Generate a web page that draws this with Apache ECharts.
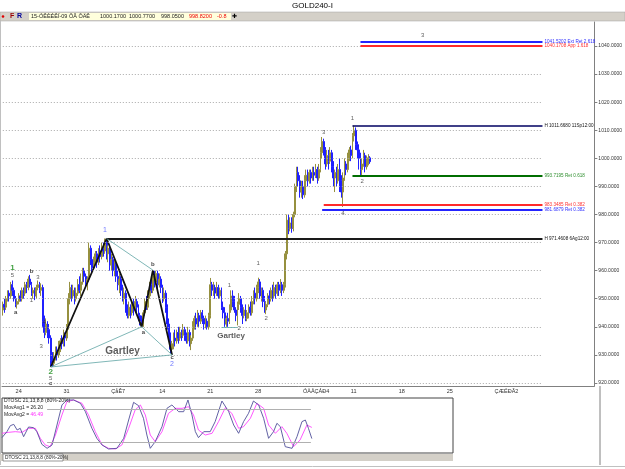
<!DOCTYPE html>
<html>
<head>
<meta charset="utf-8">
<script src="https://cdn.jsdelivr.net/npm/echarts@6/dist/echarts.min.js"></script>
<style>html,body{margin:0;padding:0;background:#fff}#chart{width:625px;height:469px}</style>
</head>
<body>
<div id="chart"></div>
<script>
// week tick labels (bar index 8 + 30*k)
var weekLabels = ['24', '31', 'ÇåÊ7', '14', '21', '28', 'ÓÄÅÇÁÐ4', '11', '18', '25', 'ÇÆÉÐÃ2'];
var barCount = 371;
var priceTicks = [920, 930, 940, 950, 960, 970, 980, 990, 1000, 1010, 1020, 1030, 1040];

// 4H bars: [open, close, low, high]
var bars = [
  [946,948,944,949],[948,947,945,950],[947,950,946,951],[950,952,949,953],[952,951,949,953],
  [951,955,950,956],[955,953,951,956.5],[953,950,949,954],[950,948,947,951],[948,949,946.5,950],
  [949,951,948,952],[951,950,949,953],[950,953,949,954],[953,952,950,954],[952,955,951,956],
  [955,954,952,956],[954,957,953,958],[957,955,954,958.5],[955,952,951,956],[952,953,950,954],
  [953,951,949.5,954],[951,954,950,955],[954,955,953,956.5],[955,953,952,956],[953,954,951,955.5],
  [954,942,940,955],[942,938,936,944],[938,941,937,943],[941,939,936,942],[939,936,934,941],
  [936,928,926,937],[928,927,925.7,931],[927,929,926,931],[929,931,928,933],[931,930,928,933],
  [930,933,929,935],[933,935,931,936],[935,934,932,937],[934,937,933,939],[937,936,933,938],
  [936,940,935,941],[940,950,939,952],[950,954,948,956],[954,951,949,955],[951,953,950,955],
  [953,950,948,954],[950,952,949,954],[952,955,951,957],[955,953,952,958],[953,956,951,959],
  [956,960,955,961],[960,958,956,961],[958,955,954,959],[955,957,953,958],[957,968,956,970],
  [968,964,962,969],[964,961,959,966],[961,963,960,965],[963,966,962,967],[966,963,961,967],
  [963,967,962,968],[967,965,963,969],[965,968,964,970],[968,967,965,970],[967,970,966,971.46],
  [970,966,964,971],[966,968,963,969],[968,962,960,969],[962,964,960,966],[964,960,958,965],
  [960,962,958,964],[962,958,956,963],[958,955,953,960],[955,957,952,959],[957,953,951,958],
  [953,950,949,955],[950,952,948,954],[952,946,945,953],[946,944,943,948],[944,947,943,949],
  [947,945,943,948],[945,948,944,949],[948,946,944,950],[946,949,945,951],[949,947,945,950],
  [947,944,942,948],[944,942,940.5,945],[942,941,940,944],[941,945,940,946],[945,949,944,950],
  [949,947,946,951],[947,951,946,953],[951,955,950,956],[955,953,952,957],[953,958,952,960.2],
  [958,956,954,960],[956,959,955,960],[959,955,953,960],[955,957,954,959],[957,954,952,958],
  [954,950,948.5,955],[950,952,949,954],[952,947,945,953],[947,941,939,948],[941,936,935,943],
  [936,932,930.5,938],[932,934,930,935],[934,936,932,938],[936,935,933,939],[935,938,934,939],
  [938,936,934,940],[936,938,935,940],[938,937,935,939],[937,939,936,941],[939,937,935,940],
  [937,935,934,938],[935,938,934,940],[938,934,933,939],[934,936,931.7,937],[936,940,935,942],
  [940,943,939,944],[943,941,939,945],[941,944,940,946],[944,942,940,945],[942,945,941,946],
  [945,943,941,946],[943,941,939,944],[941,942,939.5,944],[942,940,939,943],[940,944,939,945],
  [944,955,943,957.4],[955,953,951,956],[953,954,951,956],[954,952,950,955],[952,954,951,956],
  [954,951,950,955],[951,953,950,954],[953,947,946,954],[947,945,943,949],[945,941,940,947],
  [941,943,940,944],[943,942,940,945],[942,946,941,948],[946,951,945,953],[951,949,947,953],
  [949,946,945,951],[946,944,942,947],[944,948,940.5,949],[948,950,946,952],[950,947,945,951],
  [947,944,941,948],[944,946,943,947],[946,943,942,948],[943,945,942,946],[945,947,943,948],
  [947,945,944,949],[945,949,944,951],[949,952,948,953],[952,950,948,954],[950,954,949,955],
  [954,956,952,957.5],[956,951,950,957],[951,953,949,954],[953,949,947,954],[949,946,945,951],
  [946,948,944.5,949],[948,951,947,952],[951,950,948,953],[950,953,949,954],[953,951,949,955],
  [951,954,950,956],[954,952,950,955],[952,955,951,956],[955,953,951,956],[953,955,952,957],
  [955,953,951,956],[953,955,952,956],[955,966,954,967],[966,978,964,980],[978,975,973,980],
  [975,977,974,979],[977,975,973.5,979],[975,980,974,981],[980,990,979,991],[990,995,988,997],
  [995,992,990,997],[992,988,986,994],[988,990,986,992],[990,987,985.5,992],[987,992,986,994],
  [992,994,991,996],[994,992,990,996],[992,995,991,996],[995,993,991,996],[993,995,992,997],
  [995,994,992,997],[994,996,993,998],[996,993,991,997],[993,996,992,998],[996,1002,995,1004],
  [1002,1006,1000,1007.6],[1006,1003,1001,1007],[1003,998,996,1004],[998,1001,997,1003],[1001,999,996,1003],
  [999,1002,998,1004],[1002,997,995,1003],[997,993,990,999],[993,995,988,996],[995,992,990,997],
  [992,996,991,998],[996,992,988,1000],[992,988,986,994],[988,993,982.7,995],[993,998,992,1000],
  [998,996,994,999],[996,1000,995,1002],[1000,1003,999,1004],[1003,1001,999,1004.5],[1001,1008,1000,1009],
  [1008,1010,1006,1011.67],[1010,1005,1003,1011],[1005,1003,1000,1006],[1003,1000,996,1005],[1000,996,994,1002],
  [996,998,993.7,1000],[998,1001,997,1003],[1001,997,995,1002],[997,1000,996,1001],[1000,1000.17,997.5,1001.5],
  [1000.17,998.82,998.05,1000.77]
];
var lastPrice = 998.82;

// Gartley pattern points [bar, price]: X, A, a, b, c
var gartleyPath = [[30, 925.7], [65, 971.46], [87, 940], [94, 960.2], [106, 930]];
var gartleyLegs = [
  [[30, 925.7], [87, 940]], [[30, 925.7], [106, 930]],
  [[65, 971.46], [94, 960.2]], [[87, 940], [106, 930]],
  [[137, 940], [147, 940]]
];

// level lines: [price, start bar, text, kind]
var levelEnd = 338;
var gridEnd = 337;
var levels = [
  [1041.5202, 223.5, '1041.5202 Ext Ret 2.618', 'blue'],
  [1040.1708, 223.5, '1040.1708 App 1.618', 'red'],
  [1011.6680, 219, 'H 1011.6680 11Sp12:00', 'navy'],
  [993.7195, 219, '993.7195 Ret 0.618', 'green'],
  [983.3485, 200.5, '983.3485 Ret 0.382', 'red'],
  [981.6879, 200, '981.6879 Ret 0.382', 'blue'],
  [971.4608, 64.5, 'H 971.4608 6Ag12:00', 'black']
];

// wave marks: [bar, price, text, kind]
var waveLabels = [
  [5.7, 960.9, '1', 'wave'], [5.7, 958.2, '5', 'num'], [8.2, 945.3, 'a', 'letter'],
  [17.5, 959.9, 'b', 'letter'], [18.1, 949.5, '1', 'num'], [21.8, 957.7, '3', 'num'],
  [26.2, 941.7, '4', 'num'], [24.3, 933.2, '3', 'num'], [29.9, 923.9, '2', 'wave'],
  [29.9, 921.7, '5', 'num'], [29.9, 919.9, 'c', 'letter'],
  [64, 974.5, '1', 'blue'], [87.6, 938.1, 'a', 'letter'], [94.4, 962.4, 'b', 'letter'],
  [105.6, 929.2, 'c', 'letter'], [105.6, 926.9, '2', 'blue'],
  [141.5, 954.9, '1', 'num'], [147.8, 939.6, '2', 'num'], [159.5, 962.7, '1', 'num'],
  [165.1, 943.1, '2', 'num'], [201.1, 1009.4, '3', 'num'], [212.9, 980.5, '4', 'num'],
  [219.1, 1014.4, '1', 'num'], [224.7, 991.9, '2', 'num'], [262.5, 1043.9, '3', 'num'],
  [75.2, 931.4, 'Gartley', 'gartley'], [143.4, 936.7, 'Gartley', 'gartleySmall']
];

// DTOSC lines: [step, value]
var oscFast = [[0,28],[1.6,38.8],[2.7,49.7],[3.8,52.1],[4.9,41.8],[5.9,44.9],[7,29.7],[8.6,47.3],[10.2,46.1],
  [11.3,38.8],[12.9,15.8],[14.6,8.5],[16.2,14.6],[17.8,50.9],[19.4,87.3],[21,96.4],[23.2,96.4],[25.4,90.3],
  [27,75.1],[29.1,44.9],[30.7,26.7],[32.4,14.6],[34.5,7.3],[37.2,8.5],[39.4,26.7],[41,60],[42.6,92.1],
  [44.2,86.1],[45.8,63],[46.9,32.7],[48,8.5],[49.6,20.6],[51.8,47.9],[53.4,81.2],[55,87.3],[57.2,75.1],
  [58.8,75.1],[60.2,96.4],[61.5,69.1],[62.6,38.8],[63.6,27.9],[65.3,38.8],[67.4,38.8],[69,57],[71.2,94.5],
  [73.4,75.1],[75,50.9],[76.6,35.8],[78.2,57],[79.8,72.1],[81.4,94.5],[83.1,87.3],[84.7,63],[86.3,26.7],
  [87.9,38.8],[89,54],[90.1,47.9],[91.7,11.5],[93.9,8.5],[95.5,29.7],[97.1,57],[98.2,60],[99.2,44.9],[100.3,26.2]];
var oscSlow = [[0,35.8],[2.2,37.6],[4.3,38.8],[6.5,37.6],[8.6,44.9],[10.8,44.9],[12.4,26.7],[14,14.6],[15.6,11.5],
  [17.3,32.7],[19.4,69.1],[21,93.3],[23.2,96.4],[25.9,90.3],[28,69.1],[30.2,38.8],[32.4,14.6],[34.5,8.5],
  [36.7,7.3],[38.8,14.6],[41,44.9],[43.1,78.2],[44.8,87.3],[46.4,69.1],[48,32.7],[49.6,20.6],[51.8,38.8],
  [53.9,72.1],[56.1,81.2],[58.3,81.2],[60.4,84.2],[62,69.1],[63.6,41.8],[65.8,32.7],[68,35.8],[70.1,57],
  [72.3,82.4],[74.4,72.1],[76.6,44.9],[78.2,47.9],[80.4,63],[82.5,90.3],[84.7,81.2],[86.3,50.9],[88.5,35.8],
  [90.6,47.9],[92.2,35.8],[94.4,11.5],[96.5,23.7],[98.7,50.9],[100.3,46.49]];
var oscLevels = [80, 20];

var FONT = 'Liberation Sans';
var lineColors = {blue: '#2424ff', red: '#ff2a2a', navy: '#000060', green: '#006e00', black: '#1a1a1a'};
var textColors = {blue: '#3030ff', red: '#ff3030', navy: '#111', green: '#2f8f2f', black: '#111'};
var lineWidths = {blue: 2, red: 2, navy: 1.6, green: 2, black: 2};
var labelStyles = {
  num: {color: '#333', fontSize: 6},
  wave: {color: '#118811', fontSize: 8, fontWeight: 'bold'},
  blue: {color: '#4a55ff', fontSize: 7},
  letter: {color: '#111', fontSize: 6, fontWeight: 'bold'},
  gartley: {color: '#333', fontSize: 10, fontWeight: 'bold'},
  gartleySmall: {color: '#333', fontSize: 8, fontWeight: 'bold'}
};

var cats = [];
for (var i = 0; i < barCount; i++) {
  var k = (i - 8) / 30;
  cats.push(i >= 8 && (i - 8) % 30 === 0 && weekLabels[k] ? weekLabels[k] : '');
}
function isWeek(i) { return i >= 8 && (i - 8) % 30 === 0; }

var chartDom = document.getElementById('chart');
var myChart = echarts.init(chartDom);
var option = {
  animation: false,
  textStyle: {fontFamily: FONT},
  grid: [
    {left: 2, right: 25, top: 22, bottom: 83},
    {left: 2, top: 398, width: 451, height: 55, show: true, borderColor: '#444', borderWidth: 1, backgroundColor: '#fff'}
  ],
  xAxis: [
    {
      type: 'category', data: cats, gridIndex: 0, boundaryGap: true,
      axisLine: {lineStyle: {color: '#808080'}},
      axisTick: {interval: isWeek, alignWithLabel: true, length: 3, lineStyle: {color: '#808080'}},
      axisLabel: {interval: isWeek, align: 'left', fontSize: 5.5, color: '#333', margin: 2, fontFamily: FONT},
      splitLine: {show: false}
    },
    {type: 'value', gridIndex: 1, min: 0, max: 146, show: false}
  ],
  yAxis: [
    {
      type: 'value', gridIndex: 0, position: 'right', min: 918.93, max: 1048.55,
      axisLine: {show: true, lineStyle: {color: '#808080'}},
      axisTick: {show: true, length: 3, customValues: priceTicks, lineStyle: {color: '#808080'}},
      axisLabel: {customValues: priceTicks, fontSize: 5, color: '#333', margin: 4, fontFamily: FONT,
        formatter: function (v) { return v.toFixed(4); }},
      splitLine: {show: false}
    },
    {type: 'value', gridIndex: 1, min: 0, max: 100, show: false}
  ],
  graphic: [
    {type: 'text', left: 'center', top: 2, style: {text: 'GOLD240-I', fontSize: 8, fontFamily: FONT, fill: '#000'}},
    {type: 'rect', shape: {x: 0, y: 12, width: 625, height: 9}, style: {fill: '#d4d0c8', stroke: '#a0a0a0', lineWidth: 0.5}},
    {type: 'rect', shape: {x: 29, y: 13, width: 202, height: 7}, style: {fill: '#ffffdc'}},
    {type: 'circle', shape: {cx: 3, cy: 16.5, r: 1.3}, style: {fill: '#e00000'}},
    {type: 'text', x: 10, y: 16.5, style: {text: 'F', fontSize: 7, fontWeight: 'bold', fill: '#990000', verticalAlign: 'middle'}},
    {type: 'text', x: 17, y: 16.5, style: {text: 'R', fontSize: 7, fontWeight: 'bold', fill: '#000099', verticalAlign: 'middle'}},
    {type: 'text', x: 31, y: 16.5, style: {text: '15-ÓÊÈÉÊÍ-09 ÕÃ ÕÄÊ', fontSize: 5.5, fill: '#222', verticalAlign: 'middle', fontFamily: FONT}},
    {type: 'text', x: 100, y: 16.5, style: {text: '1000.1700', fontSize: 5.5, fill: '#222', verticalAlign: 'middle', fontFamily: FONT}},
    {type: 'text', x: 129, y: 16.5, style: {text: '1000.7700', fontSize: 5.5, fill: '#222', verticalAlign: 'middle', fontFamily: FONT}},
    {type: 'text', x: 161, y: 16.5, style: {text: '998.0500', fontSize: 5.5, fill: '#222', verticalAlign: 'middle', fontFamily: FONT}},
    {type: 'text', x: 189, y: 16.5, style: {text: '998.8200', fontSize: 5.5, fill: '#ee0000', verticalAlign: 'middle', fontFamily: FONT}},
    {type: 'text', x: 217, y: 16.5, style: {text: '-0.8', fontSize: 5.5, fill: '#ee0000', verticalAlign: 'middle', fontFamily: FONT}},
    {type: 'text', x: 232, y: 16.5, style: {text: '✚', fontSize: 6, fill: '#000', verticalAlign: 'middle'}},
    {type: 'line', shape: {x1: 600, y1: 386, x2: 600, y2: 465}, style: {stroke: '#808080', lineWidth: 1}},
    {type: 'line', shape: {x1: 0.5, y1: 21, x2: 0.5, y2: 465}, style: {stroke: '#c0c0c0', lineWidth: 1}},
    {type: 'rect', shape: {x: 0, y: 454, width: 453, height: 7}, style: {fill: '#d4d0c8'}},
    {type: 'rect', shape: {x: 3, y: 454, width: 60, height: 7}, style: {fill: '#fff', stroke: '#555', lineWidth: 0.6}},
    {type: 'text', x: 5, y: 457.5, style: {text: 'DTOSC 21,13,8,8 (80%-20%)', fontSize: 4.8, fill: '#222', verticalAlign: 'middle', fontFamily: FONT}},
    {type: 'line', shape: {x1: 0, y1: 466.5, x2: 625, y2: 466.5}, style: {stroke: '#c0c0c0', lineWidth: 1}},
    {type: 'text', x: 4, y: 401, z: 10, style: {text: 'DTOSC 21,13,8,8 (80%-20%)', fontSize: 5, fill: '#222', verticalAlign: 'middle', fontFamily: FONT}},
    {type: 'text', x: 4, y: 408, z: 10, style: {text: 'MovAvg1 = 26.20', fontSize: 5, fill: '#222', verticalAlign: 'middle', fontFamily: FONT}},
    {type: 'text', x: 4, y: 414.5, z: 10, style: {text: 'MovAvg2 = {m|46.49}', fontSize: 5, fill: '#222', verticalAlign: 'middle', fontFamily: FONT,
      rich: {m: {fill: '#ff33ff', fontSize: 5, fontFamily: FONT}}}}
  ],
  series: [
    {
      name: 'grid', type: 'line', xAxisIndex: 0, yAxisIndex: 0, data: [], z: 1,
      markLine: {
        silent: true, symbol: 'none', animation: false,
        lineStyle: {color: '#a8a8a8', type: [1, 2], width: 1},
        label: {show: false},
        data: priceTicks.map(function (v) { return [{coord: [0, v]}, {coord: [gridEnd, v]}]; })
      }
    },
    {
      name: 'GOLD240', type: 'candlestick', xAxisIndex: 0, yAxisIndex: 0, z: 3,
      data: bars, barWidth: 1.4,
      itemStyle: {color: '#96903f', color0: '#2020ff', borderColor: '#96903f', borderColor0: '#2020ff', borderWidth: 1},
      markLine: {
        silent: true, symbol: 'none', animation: false,
        data: levels.map(function (l) {
          return [
            {coord: [l[1], l[0]], lineStyle: {color: lineColors[l[3]], width: lineWidths[l[3]], type: 'solid'},
              label: {show: true, position: 'end', formatter: l[2], color: textColors[l[3]], fontSize: 4.6, distance: 2, fontFamily: FONT}},
            {coord: [levelEnd, l[0]]}
          ];
        }).concat([{
          yAxis: lastPrice, lineStyle: {opacity: 0},
          label: {show: true, position: 'end', formatter: lastPrice.toFixed(4), backgroundColor: '#ffff00',
            color: '#222', fontSize: 5, distance: 2, padding: [1, 2, 1, 1], fontFamily: FONT}
        }])
      }
    },
    {
      name: 'Gartley', type: 'line', xAxisIndex: 0, yAxisIndex: 0, z: 4,
      data: gartleyPath, symbol: 'none', lineStyle: {color: '#111', width: 1.8},
      markLine: {
        silent: true, symbol: 'none', animation: false,
        lineStyle: {color: '#5fa5a5', width: 0.8, type: 'solid'},
        label: {show: false},
        data: gartleyLegs.map(function (g) { return [{coord: g[0]}, {coord: g[1]}]; })
      }
    },
    {
      name: 'marks', type: 'scatter', xAxisIndex: 0, yAxisIndex: 0, z: 5, symbolSize: 0, silent: true,
      data: waveLabels.map(function (w) {
        var s = labelStyles[w[3]];
        return {value: [w[0], w[1]], label: {show: true, position: 'inside', formatter: w[2], color: s.color,
          fontSize: s.fontSize, fontWeight: s.fontWeight || 'normal', fontFamily: FONT}};
      })
    },
    {
      name: 'MovAvg1', type: 'line', xAxisIndex: 1, yAxisIndex: 1, data: oscFast, symbol: 'none', z: 3,
      lineStyle: {color: '#50509a', width: 0.9},
      markLine: {
        silent: true, symbol: 'none', animation: false,
        lineStyle: {color: '#b0b0b0', width: 1, type: 'solid'}, label: {show: false},
        data: oscLevels.map(function (v) { return [{coord: [14.6, v]}, {coord: [100, v]}]; })
      }
    },
    {
      name: 'MovAvg2', type: 'line', xAxisIndex: 1, yAxisIndex: 1, data: oscSlow, symbol: 'none', z: 2,
      lineStyle: {color: '#ff44ff', width: 0.9}
    }
  ]
};
option && myChart.setOption(option);
</script>
</body>
</html>
